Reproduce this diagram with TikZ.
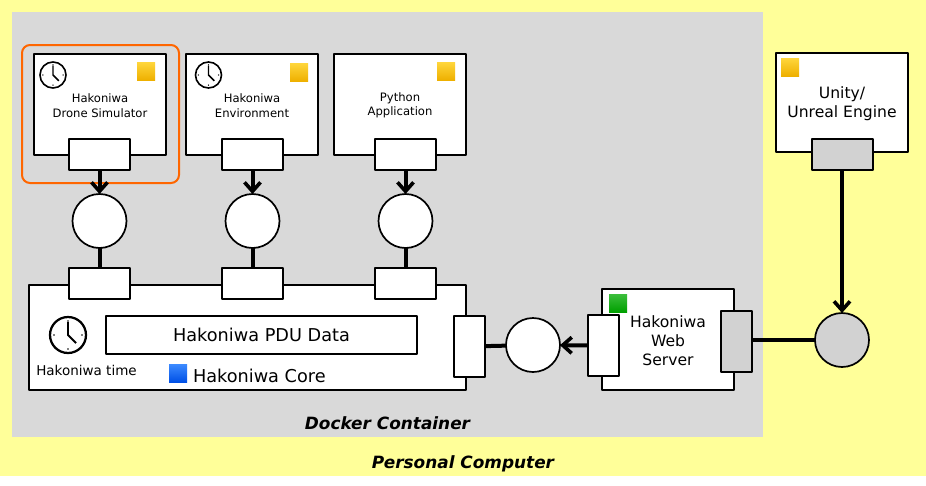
\documentclass[tikz,border=0pt]{standalone}
\usepackage{fontspec}
\setmainfont{DejaVu Sans}
\usetikzlibrary{arrows.meta}
\definecolor{pcyellow}{HTML}{FFFF99}
\definecolor{dockergray}{HTML}{D9D9D9}
\definecolor{portgray}{HTML}{D2D2D2}
\definecolor{focusorange}{HTML}{FF6600}
\definecolor{gemorangetop}{HTML}{FFD63C}
\definecolor{gemorange}{HTML}{EEB000}
\definecolor{gembluetop}{HTML}{3D8BFF}
\definecolor{gemblue}{HTML}{0050E6}
\definecolor{gemgreentop}{HTML}{3CBE3C}
\definecolor{gemgreen}{HTML}{00A000}

\begin{document}
\begin{tikzpicture}[x=1pt, y=-1pt,
    every node/.style={inner sep=0pt, outer sep=0pt, align=center},
    box/.style={draw=black, fill=white, line width=2pt, line join=round},
    smalltext/.style={font=\fontsize{11.6}{14.4}\selectfont},
    bigtext/.style={font=\fontsize{15.6}{19}\selectfont},
    hugetext/.style={font=\fontsize{17.7}{21}\selectfont},
    simbox/.style={box, smalltext, minimum width=132pt, minimum height=101pt},
    port/.style={box, minimum width=61pt, minimum height=31pt},
    sideport/.style={box, minimum width=31pt, minimum height=61pt},
    bus/.style={draw=black, fill=white, line width=1.7pt, circle, minimum size=54pt},
    link/.style={line width=4pt, draw=black},
    tolink/.style={link, -{Straight Barb[length=9pt, width=16pt, line width=3.6pt]}},
    gem/.style={minimum size=18pt, top color=gem#1top, bottom color=gem#1},
    title/.style={font=\fontsize{16.9}{20}\selectfont\bfseries\itshape}
  ]

  \newcommand\XA{99.5}
  \newcommand\XB{252.5}
  \newcommand\XC{405.5}
  \newcommand\YBUS{221}
  \newcommand\YCORE{283.5}
  \newcommand\LIFTA{\rule{0pt}{11pt}}
  \newcommand\LIFTB{\rule{0pt}{15pt}}

  \newcommand\CLOCK[3]{
    \draw[line width=#3*0.125pt, fill=white] (#1, #2) circle (#3);
    \foreach \a in {0,90,180,270}
      \fill (#1, #2) ++(\a:#3*0.78) circle (#3*0.05);
    \draw[line width=#3*0.11pt, line join=round] (#1, #2 - #3*0.72) -- (#1, #2) -- ++(#3*0.45, #3*0.45);
  }

  \useasboundingbox (0, 0) rectangle (926, 485);
  \fill[pcyellow] (0, 0) rectangle (926, 476);
  \fill[dockergray] (12, 12) rectangle (763, 437);

  \node[title] (docker) at (387.5, 423) {Docker Container};
  \node[title] (pc) at (463, 464) {Personal Computer};

  % docker side
  \draw[focusorange, line width=2pt, rounded corners=8pt] (22, 45) rectangle (179, 183);

  \node[simbox] (drone) at (100, 104.5) {\LIFTA Hakoniwa\\Drone Simulator};
  \node[simbox] (env) at (252, 104.5) {\LIFTA Hakoniwa\\Environment};
  \node[simbox] (python) at (400, 104.5) {\LIFTA Python\\Application};

  \node[port] (droneport) at (\XA, 154.5) {};
  \node[port] (envport) at (\XB, 154.5) {};
  \node[port] (pythonport) at (\XC, 154.5) {};

  \node[gem=orange] (dronegem) at (146, 71) {};
  \node[gem=orange] (envgem) at (299, 72) {};
  \node[gem=orange] (pythongem) at (446, 71) {};

  \CLOCK{53}{75}{13}
  \CLOCK{208.5}{75}{13}

  \node[bus] (dronebus) at (\XA, \YBUS) {};
  \node[bus] (envbus) at (\XB, \YBUS) {};
  \node[bus] (pythonbus) at (\XC, \YBUS) {};

  % core
  \node[box, minimum width=437pt, minimum height=105pt] (core) at (247.5, 337.5) {};
  \node[port] (coredrone) at (\XA, \YCORE) {};
  \node[port] (coreenv) at (\XB, \YCORE) {};
  \node[port] (corepython) at (\XC, \YCORE) {};
  \node[sideport] (coreweb) at (469.5, 346.5) {};

  \node[box, hugetext, minimum width=311pt, minimum height=38pt] (pdu) at (261.5, 335) {Hakoniwa PDU Data};
  \CLOCK{68}{335}{18}
  \node[font=\fontsize{13.5}{16}\selectfont] (timelabel) at (86.5, 370) {Hakoniwa time};
  \node[gem=blue] (coregem) at (178, 373) {};
  \node[anchor=west, hugetext] (corelabel) at (193, 375.5) {Hakoniwa Core};

  % web server
  \node[box, bigtext, minimum width=132pt, minimum height=101pt] (web) at (668, 339.5) {\LIFTB Hakoniwa\\Web\\Server};
  \node[sideport] (webleft) at (603.5, 345.5) {};
  \node[sideport, fill=portgray] (webright) at (736.5, 341.5) {};
  \node[gem=green] (webgem) at (618, 303) {};
  \node[bus] (webbus) at (533, 345) {};

  % outside the container
  \node[box, bigtext, minimum width=132pt, minimum height=99pt] (unity) at (842, 102.5) {\LIFTB Unity/\\Unreal Engine};
  \node[port, fill=portgray] (unityport) at (842, 154.5) {};
  \node[gem=orange] (unitygem) at (790, 67) {};
  \node[bus, fill=portgray] (unitybus) at (842, 340) {};

  \draw[tolink] (droneport) -- (dronebus);
  \draw[tolink] (envport) -- (envbus);
  \draw[tolink] (pythonport) -- (pythonbus);
  \draw[link] (dronebus) -- (coredrone);
  \draw[link] (envbus) -- (coreenv);
  \draw[link] (pythonbus) -- (corepython);

  \draw[tolink] (webleft) -- (webbus);
  \draw[link] (webbus) -- (coreweb);
  \draw[tolink] (unityport) -- (unitybus);
  \draw[link] (webright.east |- unitybus) -- (unitybus);

\end{tikzpicture}
\end{document}
